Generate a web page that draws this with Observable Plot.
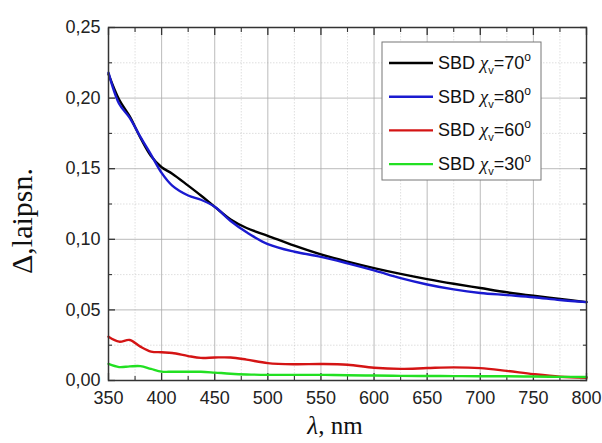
<!DOCTYPE html>
<html>
<head>
<meta charset="utf-8">
<script src="https://cdn.jsdelivr.net/npm/d3@7"></script>
<script src="https://cdn.jsdelivr.net/npm/@observablehq/plot@0.6"></script>
<style>
  html, body { margin: 0; padding: 0; background: #fff; }
  #chart svg { display: block; }
</style>
</head>
<body>
<div id="chart"></div>
<script>
// wavelengths, nm
const wavelength = [350,360,370,380,390,400,410,425,437,450,465,480,500,525,550,575,600,625,650,675,700,725,750,775,800];
// series values (Δ, laipsn.)
const sbd70 = [0.217,0.199,0.187,0.172,0.159,0.151,0.1465,0.138,0.131,0.123,0.114,0.108,0.1025,0.0955,0.0893,0.0842,0.0796,0.0755,0.0718,0.0685,0.0655,0.0625,0.060,0.0578,0.0555];
const sbd80 = [0.218,0.196,0.186,0.1725,0.160,0.147,0.138,0.131,0.128,0.123,0.113,0.105,0.0966,0.0912,0.0876,0.083,0.078,0.0725,0.068,0.0645,0.062,0.0605,0.059,0.057,0.0555];
const sbd60 = [0.031,0.0275,0.0287,0.024,0.0205,0.020,0.0195,0.0173,0.016,0.0163,0.0163,0.0148,0.0123,0.0115,0.0117,0.0112,0.0090,0.0082,0.0088,0.0093,0.0088,0.0068,0.0045,0.0027,0.002];
const sbd30 = [0.0117,0.0095,0.010,0.0102,0.0082,0.0063,0.0062,0.0062,0.0062,0.0056,0.0048,0.0043,0.004,0.004,0.004,0.0037,0.0035,0.0033,0.0032,0.0031,0.003,0.003,0.0028,0.0026,0.0025];

const seriesNames = ["70", "80", "60", "30"];
const seriesValues = [sbd70, sbd80, sbd60, sbd30];
const seriesColors = ["#000000", "#1a1ad0", "#d41414", "#22e022"];
const drawOrder = [2, 3, 0, 1];

const xMajor = [350,400,450,500,550,600,650,700,750,800];
const xMinor = [375,425,475,525,575,625,675,725,775];
const yMajor = [0,0.05,0.10,0.15,0.20,0.25];
const yMinor = [0.025,0.075,0.125,0.175,0.225];

const fmt = d => d.toFixed(2).replace(".", ",");

const lines = drawOrder.map(i =>
  Plot.line(wavelength.map((w, j) => ({w, v: seriesValues[i][j]})), {
    x: "w", y: "v", stroke: seriesColors[i], strokeWidth: 2.4, curve: "catmull-rom"
  })
);

const tickFont = {fontSize: 18, fontFamily: "'Liberation Sans', Arial, sans-serif", fill: "#222"};

const chart = Plot.plot({
  width: 602,
  height: 443,
  marginLeft: 108,
  marginRight: 16,
  marginTop: 27,
  marginBottom: 63,
  x: {domain: [350, 800]},
  y: {domain: [0, 0.25]},
  style: {background: "#fff", overflow: "visible"},
  marks: [
    Plot.gridX(xMinor, {stroke: "#bbb", strokeOpacity: 0.6, strokeDasharray: "1.5,1.5", strokeWidth: 0.8}),
    Plot.gridY(yMinor, {stroke: "#bbb", strokeOpacity: 0.6, strokeDasharray: "1.5,1.5", strokeWidth: 0.8}),
    Plot.gridX(xMajor, {stroke: "#aaa", strokeOpacity: 0.8, strokeWidth: 1}),
    Plot.gridY(yMajor, {stroke: "#aaa", strokeOpacity: 0.8, strokeWidth: 1}),
    // tick labels
    Plot.axisX(xMajor, {anchor: "bottom", tickSize: 0, tickPadding: 11, label: null, ...tickFont}),
    Plot.axisY(yMajor, {anchor: "left", tickSize: 0, tickPadding: 8, tickFormat: fmt, label: null, ...tickFont}),
    // inward ticks
    Plot.axisX(xMajor, {anchor: "bottom", tickSize: -7, text: null, label: null, stroke: "#333", strokeWidth: 1.3}),
    Plot.axisX(xMinor, {anchor: "bottom", tickSize: -4, text: null, label: null, stroke: "#333", strokeWidth: 1.1}),
    Plot.axisX(xMajor, {anchor: "top", tickSize: -7, text: null, label: null, stroke: "#333", strokeWidth: 1.3}),
    Plot.axisX(xMinor, {anchor: "top", tickSize: -4, text: null, label: null, stroke: "#333", strokeWidth: 1.1}),
    Plot.axisY(yMajor, {anchor: "left", tickSize: -7, text: null, label: null, stroke: "#333", strokeWidth: 1.3}),
    Plot.axisY(yMinor, {anchor: "left", tickSize: -4, text: null, label: null, stroke: "#333", strokeWidth: 1.1}),
    Plot.axisY(yMajor, {anchor: "right", tickSize: -7, text: null, label: null, stroke: "#333", strokeWidth: 1.3}),
    Plot.axisY(yMinor, {anchor: "right", tickSize: -4, text: null, label: null, stroke: "#333", strokeWidth: 1.1}),
    ...lines,
    Plot.frame({stroke: "#333", strokeWidth: 1.5})
  ]
});

document.getElementById("chart").appendChild(chart);

// axis titles and legend as real text
const svg = d3.select(chart);

const serif = "'Liberation Serif', 'Times New Roman', serif";
const sans = "'Liberation Sans', Arial, sans-serif";

const xl = svg.append("text")
  .attr("x", 335).attr("y", 434)
  .attr("text-anchor", "middle")
  .attr("font-family", serif).attr("font-size", 25).attr("fill", "#111");
xl.append("tspan").attr("font-style", "italic").text("λ");
xl.append("tspan").text(", nm");

svg.append("text")
  .attr("transform", `translate(32,221) rotate(-90)`)
  .attr("text-anchor", "middle")
  .attr("font-family", serif).attr("font-size", 30).attr("fill", "#111")
  .text("Δ,laipsn.");

// legend
const lg = svg.append("g").attr("text-anchor", "start");
const bx = 382, by = 42, bw = 159, bh = 138;
lg.append("rect").attr("x", bx).attr("y", by).attr("width", bw).attr("height", bh)
  .attr("fill", "#fff").attr("stroke", "#777").attr("stroke-width", 1);
seriesNames.forEach((name, i) => {
  const cy = 63 + i * 33.7;
  lg.append("line").attr("x1", 389).attr("x2", 433).attr("y1", cy).attr("y2", cy)
    .attr("stroke", seriesColors[i]).attr("stroke-width", 2.4);
  const t = lg.append("text").attr("x", 438).attr("y", cy + 6)
    .attr("text-anchor", "start")
    .attr("font-family", sans).attr("font-size", 18).attr("fill", "#111");
  t.append("tspan").text("SBD ");
  t.append("tspan").attr("font-family", serif).attr("font-style", "italic").attr("font-size", 18.5).text("χ");
  t.append("tspan").attr("font-family", sans).attr("font-size", 11).attr("dy", 5).text("v");
  t.append("tspan").attr("dy", -5).text("=" + name);
  t.append("tspan").attr("font-size", 12).attr("dy", -8).text("o");
});
</script>
</body>
</html>
